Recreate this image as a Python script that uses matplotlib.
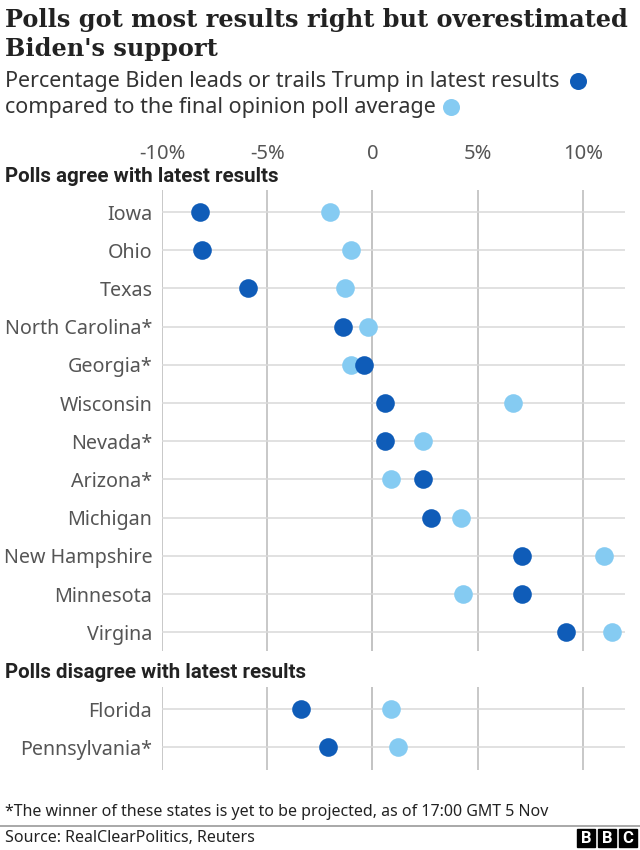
import numpy as np
import matplotlib
matplotlib.use("Agg")
import matplotlib.pyplot as plt
from matplotlib.patches import Rectangle

agree_states = ["Iowa", "Ohio", "Texas", "North Carolina*", "Georgia*", "Wisconsin",
                "Nevada*", "Arizona*", "Michigan", "New Hampshire", "Minnesota", "Virgina"]
agree_results = [-8.2, -8.1, -5.9, -1.4, -0.4, 0.6, 0.6, 2.4, 2.8, 7.1, 7.1, 9.2]
agree_polls = [-2.0, -1.0, -1.3, -0.2, -1.0, 6.7, 2.4, 0.9, 4.2, 11.0, 4.3, 11.4]

disagree_states = ["Florida", "Pennsylvania*"]
disagree_results = [-3.4, -2.1]
disagree_polls = [0.9, 1.2]

xticks = [-10, -5, 0, 5, 10]
xtick_labels = ["-10%", "-5%", "0", "5%", "10%"]

dark = "#0f5cb8"
light = "#85cbf2"
W, H = 640, 850

plt.rcParams["font.family"] = ["Noto Sans", "DejaVu Sans"]
bold_font = ["Roboto", "DejaVu Sans"]
fig = plt.figure(figsize=(W / 100, H / 100), dpi=100)


def fy(px):
    return 1 - px / H


def make_axes(top_px, bot_px, states, results, polls, show_ticks):
    ax = fig.add_axes([162 / W, fy(bot_px), (625 - 162) / W, (bot_px - top_px) / H])
    rows = np.arange(len(states))
    ax.set_xlim(-10, 12)
    span = (bot_px - top_px) / 38.2
    ax.set_ylim(-0.576 + span, -0.576)
    for s in ax.spines.values():
        s.set_visible(False)
    ax.set_xticks(xticks)
    ax.set_yticks(rows, labels=states)
    ax.grid(axis="x", color="#c8c8c8", lw=1.4, zorder=0)
    ax.grid(axis="y", color="#d9d9d9", lw=1.1, zorder=0)
    ax.axvline(0, color="#222222", lw=1.3, zorder=1)
    ax.tick_params(axis="y", length=0, pad=7, labelsize=14.2, labelcolor="#555555")
    if show_ticks:
        ax.xaxis.tick_top()
        ax.set_xticklabels(xtick_labels)
        ax.tick_params(axis="x", length=0, pad=19, labelsize=14.5, labelcolor="#555555")
    else:
        ax.tick_params(axis="x", length=0, labeltop=False, labelbottom=False)
    ax.scatter(polls, rows, s=180, color=light, zorder=3, linewidths=0)
    ax.scatter(results, rows, s=180, color=dark, zorder=4, linewidths=0)
    return ax


make_axes(190, 651, agree_states, agree_results, agree_polls, True)
make_axes(687, 770, disagree_states, disagree_results, disagree_polls, False)

# titles
fig.text(5 / W, fy(20), "Polls got most results right but overestimated",
         family="DejaVu Serif", weight="bold", fontsize=17.3, color="#222222", va="center")
fig.text(5 / W, fy(49), "Biden's support",
         family="DejaVu Serif", weight="bold", fontsize=17.3, color="#222222", va="center")
fig.text(5 / W, fy(81), "Percentage Biden leads or trails Trump in latest results",
         fontsize=15.5, color="#333333", va="center")
fig.text(5 / W, fy(108), "compared to the final opinion poll average",
         fontsize=15.5, color="#333333", va="center")

dot_ax = fig.add_axes([0, 0, 1, 1], zorder=-1)
dot_ax.set_xlim(0, W)
dot_ax.set_ylim(H, 0)
dot_ax.axis("off")
dot_ax.scatter([578], [81], s=150, color=dark, linewidths=0)
dot_ax.scatter([451], [107], s=150, color=light, linewidths=0)

fig.text(5 / W, fy(177), "Polls agree with latest results",
         family=bold_font, weight="bold", fontsize=14.8, color="#222222", va="center")
fig.text(5 / W, fy(672), "Polls disagree with latest results",
         family=bold_font, weight="bold", fontsize=14.8, color="#222222", va="center")

fig.text(5 / W, fy(812), "*The winner of these states is yet to be projected, as of 17:00 GMT 5 Nov",
         fontsize=11.5, color="#222222", va="center")
dot_ax.plot([0, W], [826, 826], color="#999999", lw=1.2)
fig.text(5 / W, fy(838), "Source: RealClearPolitics, Reuters",
         fontsize=11.5, color="#222222", va="center")

# BBC logo
for i, letter in enumerate("BBC"):
    x0 = 577 + i * 21
    dot_ax.add_patch(Rectangle((x0, 829), 18, 18, color="black"))
    dot_ax.text(x0 + 9, 838.5, letter, color="white", family=bold_font, weight="bold",
                fontsize=12, ha="center", va="center")

fig.savefig("out.png", dpi=100)
